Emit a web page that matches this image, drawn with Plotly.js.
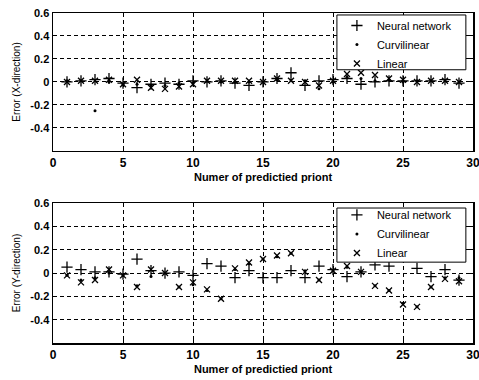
<!DOCTYPE html>
<html>
<head>
<meta charset="utf-8">
<script src="https://cdn.plot.ly/plotly-3.0.1.min.js"></script>
<style>html,body{margin:0;padding:0;background:#fff;}#chart{width:479px;height:380px;}</style>
</head>
<body>
<div id="chart"></div>
<script>
// Point index (1..29)
const points = [1,2,3,4,5,6,7,8,9,10,11,12,13,14,15,16,17,18,19,20,21,22,23,24,25,26,27,28,29];

// Error in X-direction
const xNeural      = [0.00,0.01,0.02,0.03,-0.01,-0.05,-0.02,-0.01,-0.02,0.01,0.00,0.01,-0.01,-0.03,0.00,0.03,0.08,-0.03,0.01,0.02,0.03,-0.02,0.00,0.01,0.01,0.01,0.01,0.02,-0.01];
const xCurvilinear = [0.01,0.01,-0.25,0.00,-0.02,-0.02,-0.03,-0.03,-0.01,-0.01,0.01,0.00,0.00,0.00,0.00,0.02,0.02,0.01,-0.06,0.00,0.04,0.03,0.01,0.02,0.00,0.01,0.01,0.01,0.00];
const xLinear      = [0.00,0.01,0.01,0.02,-0.02,0.02,-0.05,-0.06,-0.04,-0.02,0.01,0.01,0.01,0.01,0.00,0.03,0.01,0.00,-0.03,0.01,0.07,0.08,0.06,0.03,0.02,0.00,0.01,0.01,0.00];

// Error in Y-direction
const yNeural      = [0.05,0.03,0.01,0.01,-0.01,0.12,0.02,0.00,0.01,-0.02,0.08,0.06,-0.04,0.02,-0.04,-0.04,0.02,-0.04,0.06,0.03,-0.03,0.01,0.07,0.06,0.14,0.04,-0.03,0.03,-0.06];
const yCurvilinear = [-0.02,-0.06,-0.04,0.00,-0.02,-0.11,-0.03,0.00,-0.12,-0.10,-0.15,-0.22,0.03,0.08,0.12,0.14,0.17,0.02,-0.06,0.02,0.05,0.01,-0.11,-0.15,-0.26,-0.29,-0.12,-0.04,-0.04];
const yLinear      = [-0.02,-0.08,-0.06,0.03,-0.02,-0.12,0.03,0.00,-0.12,-0.08,-0.14,-0.22,0.04,0.09,0.12,0.15,0.17,0.01,-0.06,0.02,0.06,0.01,-0.11,-0.15,-0.27,-0.29,-0.12,-0.05,-0.07];

const seriesNames = ["Neural network", "Curvilinear", "Linear"];
const xTickVals = [0,5,10,15,20,25,30];
const yTickVals = [-0.4,-0.2,0,0.2,0.4,0.6];
const yTickText = ["-0.4","-0.2","0","0.2","0.4","0.6"];
const xTitle = "Numer of predictied priont";
const yTitleTop = "Error (X-direction)";
const yTitleBottom = "Error (Y-direction)";

const markers = [
  {symbol: "cross-thin-open", size: 8, color: "#000", line: {width: 1.3, color: "#000"}},
  {symbol: "circle", size: 3, color: "#000", line: {width: 0}},
  {symbol: "x-thin-open", size: 6, color: "#000", line: {width: 1.3, color: "#000"}}
];

function mk(y, i, ax, leg) {
  return {x: points, y: y, name: seriesNames[i], type: "scatter", mode: "markers",
          marker: markers[i], xaxis: ax.x, yaxis: ax.y, legend: leg, showlegend: true};
}
const axTop = {x: "x", y: "y"}, axBot = {x: "x2", y: "y2"};
const data = [
  mk(xNeural, 0, axTop, "legend"), mk(xCurvilinear, 1, axTop, "legend"), mk(xLinear, 2, axTop, "legend"),
  mk(yNeural, 0, axBot, "legend2"), mk(yCurvilinear, 1, axBot, "legend2"), mk(yLinear, 2, axBot, "legend2")
];

const font = {family: "Arial, 'Liberation Sans', sans-serif", size: 11, color: "#000"};
function xa(anchor) {
  return {anchor: anchor, range: [0,30], tickvals: xTickVals, ticks: "inside", ticklen: 4,
    tickcolor: "#000", showline: true, linecolor: "#000", linewidth: 1.5, mirror: "ticks",
    showgrid: true, gridcolor: "#000", griddash: "4px,3px", gridwidth: 1, zeroline: false,
    ticklabeloverflow: "allow",
    tickfont: {family: font.family, size: 12, color: "#000", weight: "bold"},
    title: {text: xTitle, font: {family: font.family, size: 11, color: "#000", weight: "bold"}, standoff: 4}};
}
function ya(anchor, domain, t) {
  return {anchor: anchor, domain: domain, range: [-0.6,0.6], tickvals: yTickVals, ticktext: yTickText,
    ticks: "inside", ticklen: 4, tickcolor: "#000", showline: true, linecolor: "#000", linewidth: 1.5,
    mirror: "ticks", showgrid: true, gridcolor: "#000", griddash: "4px,3px", gridwidth: 1, zeroline: false,
    tickfont: {family: font.family, size: 11, color: "#000", weight: "bold"},
    title: {text: t, font: {family: font.family, size: 10, color: "#000"}, standoff: 8}};
}
const legendStyle = {bgcolor: "rgba(0,0,0,0)", borderwidth: 0, xanchor: "left", yanchor: "top",
  font: {family: font.family, size: 11, color: "#000"}, itemwidth: 30, tracegroupgap: 0};

// legend frames (white, black border) drawn over the plot area, like the MATLAB legend
function legendBox(y0, y1) {
  return {type: "rect", xref: "paper", yref: "paper", x0: 0.676, x1: 0.983, y0: y0, y1: y1,
          layer: "above", fillcolor: "#fff", line: {color: "#000", width: 1}};
}

const layout = {
  width: 479, height: 380,
  margin: {l: 53, r: 6, t: 13, b: 37},
  paper_bgcolor: "#fff", plot_bgcolor: "#fff",
  font: font,
  xaxis: Object.assign(xa("y"), {domain: [0,1]}),
  yaxis: ya("x", [0.582, 1], yTitleTop),
  xaxis2: Object.assign(xa("y2"), {domain: [0,1]}),
  yaxis2: ya("x2", [0, 0.424], yTitleBottom),
  legend: Object.assign({x: 0.676, y: 1.006}, legendStyle),
  legend2: Object.assign({x: 0.676, y: 0.432}, legendStyle),
  shapes: [legendBox(0.828, 0.994), legendBox(0.245, 0.409)]
};

Plotly.newPlot("chart", data, layout, {displayModeBar: false, staticPlot: true});
</script>
</body>
</html>
